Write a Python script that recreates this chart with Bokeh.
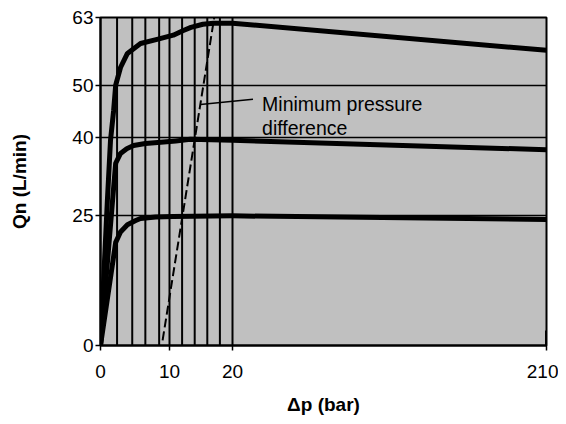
import numpy as np
from bokeh.plotting import figure
from bokeh.models import Range1d, FixedTicker
from bokeh.core.properties import value
from bokeh.embed import file_html
from bokeh.resources import INLINE

# ---- data (real units: Δp in bar, Qn in L/min) ----
q63_x = [0, 1.0, 1.45, 1.9, 2.2, 2.9, 3.9, 5.8, 8.2, 10.6, 12.2, 13.4, 15.3, 17, 20, 210]
q63_y = [0, 27.9, 39.4, 45.1, 50, 53.4, 56.1, 58, 58.8, 59.6, 60.5, 61.1, 61.7, 61.9, 61.9, 56.7]

q40_x = [0, 1.75, 2.2, 2.9, 3.8, 4.8, 6.5, 8.3, 11, 13.3, 20, 210]
q40_y = [0, 27.9, 35, 36.9, 37.8, 38.4, 38.8, 39, 39.3, 39.6, 39.4, 37.6]

q25_x = [0, 2.2, 2.9, 3.9, 5.1, 5.8, 8, 10.6, 20, 210]
q25_y = [0, 19.8, 21.8, 23.2, 24.0, 24.4, 24.7, 24.8, 24.9, 24.2]

min_dp_x = [9.0, 17.1]
min_dp_y = [1.0, 63]

drop_x = [2.4, 4.6, 6.5, 8.5, 10, 12, 14, 16, 18, 20]
end_x = [210]
end_y = [2.9]

leader_x = [14.9, 32.4]
leader_y = [46.3, 47.3]
note_x = [37.9, 37.9]
note_y = [46.3, 41.7]
note_text = ["Minimum pressure", "difference"]

x_ticks = [0, 10, 20, 210]
y_ticks = [0, 25, 40, 50, 63]

# piecewise axis scale (break points real -> display)
BREAK_REAL = [0, 10, 20, 210]
BREAK_DISP = [0, 69, 132, 446]


def xmap(v):
    return list(np.interp(v, BREAK_REAL, BREAK_DISP))


FONT = "Liberation Sans"

p = figure(frame_width=446, frame_height=328,
           x_range=Range1d(0, BREAK_DISP[-1]), y_range=Range1d(0, 63),
           output_backend="svg", toolbar_location=None,
           min_border_left=100, min_border_top=17, min_border_right=12,
           min_border_bottom=70)

p.background_fill_color = "#C0C0C0"
p.border_fill_color = "white"
p.outline_line_color = "black"
p.outline_line_width = 2

# axes
disp_ticks = [int(round(v)) for v in xmap(x_ticks)]
p.xaxis.ticker = FixedTicker(ticks=disp_ticks)
p.xaxis.major_label_overrides = {t: str(l) for t, l in zip(disp_ticks, x_ticks)}
p.yaxis.ticker = FixedTicker(ticks=y_ticks)

for ax in (p.xaxis, p.yaxis):
    ax.axis_line_color = "black"
    ax.axis_line_width = 2
    ax.major_tick_line_color = "black"
    ax.major_tick_line_width = 1.5
    ax.major_tick_in = 0
    ax.major_tick_out = 5
    ax.minor_tick_line_color = None
    ax.major_label_text_font = FONT
    ax.major_label_text_font_size = "19px"
    ax.major_label_text_color = "black"
    ax.axis_label_text_font = FONT
    ax.axis_label_text_font_size = "19px"
    ax.axis_label_text_font_style = "bold"
    ax.axis_label_text_color = "black"

p.xaxis.axis_label = "Δp (bar)"
p.yaxis.axis_label = "Qn (L/min)"
p.xaxis.major_label_standoff = 14
p.xaxis.axis_label_standoff = 13
p.yaxis.major_label_standoff = 2
p.yaxis.axis_label_standoff = 39

p.xgrid.grid_line_color = None
p.ygrid.grid_line_color = "black"
p.ygrid.grid_line_width = 1.5
p.ygrid.grid_line_alpha = 1.0

# drop lines
dx = xmap(drop_x)
p.segment(x0=dx, y0=[0] * len(dx), x1=dx, y1=[63] * len(dx),
          line_color="black", line_width=2)
ex = xmap(end_x)
p.segment(x0=ex, y0=[0], x1=ex, y1=end_y, line_color="black", line_width=3)

# curves
for xs, ys in ((q63_x, q63_y), (q40_x, q40_y), (q25_x, q25_y)):
    p.line(xmap(xs), ys, line_color="black", line_width=5, line_join="round")

# minimum pressure difference line
p.line(xmap(min_dp_x), min_dp_y, line_color="black", line_width=2, line_dash="9 4")
p.line(xmap(leader_x), leader_y, line_color="black", line_width=1.5)
p.text(x=xmap(note_x), y=note_y, text=note_text, text_font=value(FONT),
       text_font_size="19.5px", text_color="black", text_align="left",
       text_baseline="alphabetic")

open("out.html", "w").write(file_html(p, INLINE))
